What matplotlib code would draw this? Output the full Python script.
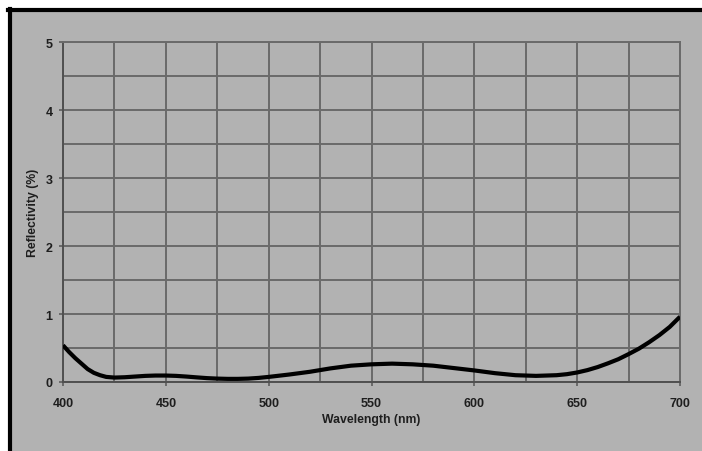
import matplotlib
matplotlib.use("Agg")
import matplotlib.pyplot as plt
from matplotlib.patches import Rectangle
from matplotlib.lines import Line2D
from matplotlib.ticker import MultipleLocator

wavelength = [400, 403, 406, 409, 412, 415, 418, 421, 425, 430, 435, 440, 445,
              450, 455, 460, 465, 470, 475, 480, 485, 490, 495, 500, 510, 520,
              530, 540, 550, 560, 570, 580, 590, 600, 610, 620, 630, 640, 645,
              650, 655, 660, 665, 670, 675, 680, 685, 690, 695, 700]
reflectivity = [0.54, 0.44, 0.35, 0.27, 0.19, 0.135, 0.10, 0.075, 0.065, 0.07,
                0.08, 0.09, 0.095, 0.095, 0.09, 0.08, 0.068, 0.057, 0.05, 0.046,
                0.046, 0.05, 0.06, 0.075, 0.11, 0.15, 0.20, 0.24, 0.26, 0.27,
                0.26, 0.24, 0.205, 0.17, 0.13, 0.10, 0.09, 0.10, 0.115, 0.14,
                0.175, 0.22, 0.275, 0.335, 0.41, 0.49, 0.585, 0.69, 0.81, 0.96]
x_ticks = [400, 450, 500, 550, 600, 650, 700]
y_ticks = [0, 1, 2, 3, 4, 5]

W, H = 702, 452
BG = "#b2b2b2"
GRID = "#6a6a6a"

fig = plt.figure(figsize=(W / 100, H / 100), dpi=100)
fig.patch.set_facecolor(BG)
# white margins on top and left, then the black frame lines
fig.add_artist(Rectangle((0, (H - 9.5) / H), 1, 9.5 / H, transform=fig.transFigure,
                         facecolor="white", edgecolor="none"))
fig.add_artist(Rectangle((0, 0), 8 / W, 1, transform=fig.transFigure,
                         facecolor="white", edgecolor="none"))
fig.add_artist(Line2D([8 / W, 1], [(H - 11) / H, (H - 11) / H],
                      transform=fig.transFigure, color="black", linewidth=3))
fig.add_artist(Line2D([9.5 / W, 9.5 / W], [0, (H - 9.5) / H],
                      transform=fig.transFigure, color="black", linewidth=3))

ax = fig.add_axes([63 / W, (H - 383) / H, (680 - 63) / W, (383 - 43) / H])
ax.set_facecolor(BG)
ax.plot(wavelength, reflectivity, color="black", linewidth=3,
        solid_capstyle="butt", solid_joinstyle="round", zorder=3)
ax.set_xlim(400, 700)
ax.set_ylim(0, 5)
ax.set_xticks(x_ticks)
ax.set_yticks(y_ticks)
ax.xaxis.set_minor_locator(MultipleLocator(25))
ax.yaxis.set_minor_locator(MultipleLocator(0.5))
ax.grid(True, which="both", color=GRID, linewidth=1.4)
ax.set_axisbelow(True)
ax.tick_params(which="minor", length=0)
ax.tick_params(which="major", length=3, width=1.4, color=GRID,
               labelsize=9, labelcolor="#1e1e1e")
ax.tick_params(axis="x", pad=7.5)
ax.tick_params(axis="y", pad=4.5)
for lab in ax.get_xticklabels() + ax.get_yticklabels():
    lab.set_fontfamily("Liberation Sans")
    lab.set_fontweight("bold")
for s in ax.spines.values():
    s.set_color(GRID)
    s.set_linewidth(1.4)
ax.spines["left"].set_color("#505050")
ax.spines["bottom"].set_color("#505050")

ax.set_xlabel("Wavelength (nm)", fontsize=8.8, fontweight="bold",
              family="Liberation Sans", color="#1e1e1e", labelpad=3)
ax.set_ylabel("Reflectivity (%)", fontsize=8.8, fontweight="bold",
              family="Liberation Sans", color="#1e1e1e", labelpad=5)

fig.savefig("out.png", dpi=100, facecolor=fig.get_facecolor())
